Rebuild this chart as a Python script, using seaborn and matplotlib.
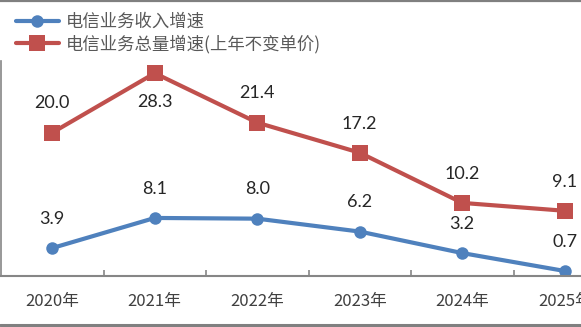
import matplotlib
matplotlib.use("Agg")
import matplotlib.pyplot as plt
from matplotlib.lines import Line2D
import seaborn as sns
import pandas as pd

years = ["2020年", "2021年", "2022年", "2023年", "2024年", "2025年"]
revenue_growth = [3.9, 8.1, 8.0, 6.2, 3.2, 0.7]
volume_growth = [20.0, 28.3, 21.4, 17.2, 10.2, 9.1]
series_names = ["电信业务收入增速", "电信业务总量增速(上年不变单价)"]

sns.set_theme(style="white")
plt.rcParams["font.family"] = ["Noto Sans CJK SC", "DejaVu Sans"]

W, H = 581, 327
fig = plt.figure(figsize=(W / 100, H / 100), dpi=100)
ax = fig.add_axes([1 / W, (H - 276) / H, 615 / W, 215 / H])

idx = list(range(len(years)))
df = pd.DataFrame({"x": idx * 2,
                   "y": revenue_growth + volume_growth,
                   "s": [series_names[0]] * len(idx) + [series_names[1]] * len(idx)})

blue = "#4F81BD"
red = "#C0504D"
sns.lineplot(data=df[df.s == series_names[0]], x="x", y="y", ax=ax, color=blue,
             lw=3, marker="o", markersize=9, markeredgewidth=0, legend=False)
sns.lineplot(data=df[df.s == series_names[1]], x="x", y="y", ax=ax, color=red,
             lw=3, marker="s", markersize=11, markeredgewidth=0, legend=False)

# label placement: +1 above the point, -1 below
revenue_label_side = [1, 1, 1, 1, 1, 1]
volume_label_side = [1, -1, 1, 1, 1, 1]
for vals, sides in ((revenue_growth, revenue_label_side), (volume_growth, volume_label_side)):
    for i, v, sd in zip(idx, vals, sides):
        ax.annotate(f"{v:.1f}", (i, v), xytext=(0, 21 * sd), textcoords="offset points",
                    ha="center", va="center", fontsize=13, family=["Lato", "DejaVu Sans"],
                    color="#262626")

ax.set_xlim(-0.5, len(years) - 0.5)
ax.set_ylim(0, 30)
ax.set_xlabel("")
ax.set_ylabel("")
ax.set_yticks([])
ax.set_xticks(idx)
ax.set_xticklabels(years, fontsize=12, color="#404040")
ax.set_xticks([i + 0.5 for i in idx[:-1]], minor=True)
ax.tick_params(axis="x", which="major", length=0, pad=12)
ax.tick_params(axis="x", which="minor", direction="in", length=4, width=1.2, color="#868686", bottom=True)
for s in ["top", "right"]:
    ax.spines[s].set_visible(False)
ax.spines["bottom"].set_color("#868686")
ax.spines["bottom"].set_linewidth(1.5)
ax.spines["left"].set_color("#868686")
ax.spines["left"].set_linewidth(1.2)

handles = [Line2D([], [], color=blue, lw=3, marker="o", markersize=9, markeredgewidth=0),
           Line2D([], [], color=red, lw=3, marker="s", markersize=11, markeredgewidth=0)]
fig.legend(handles, series_names, loc="upper left", bbox_to_anchor=(16 / W, 1 - 13 / H),
           frameon=False, fontsize=12.5, labelcolor="#595959", handlelength=2.45,
           handletextpad=0.4, labelspacing=0.2, borderaxespad=0, borderpad=0)

fig.add_artist(Line2D([0, 1], [1 - 1 / H, 1 - 1 / H], transform=fig.transFigure, color="#808080", lw=1.6))
fig.add_artist(Line2D([0, 1], [2.5 / H, 2.5 / H], transform=fig.transFigure, color="#808080", lw=2.2))

fig.savefig("out.png", dpi=100)
